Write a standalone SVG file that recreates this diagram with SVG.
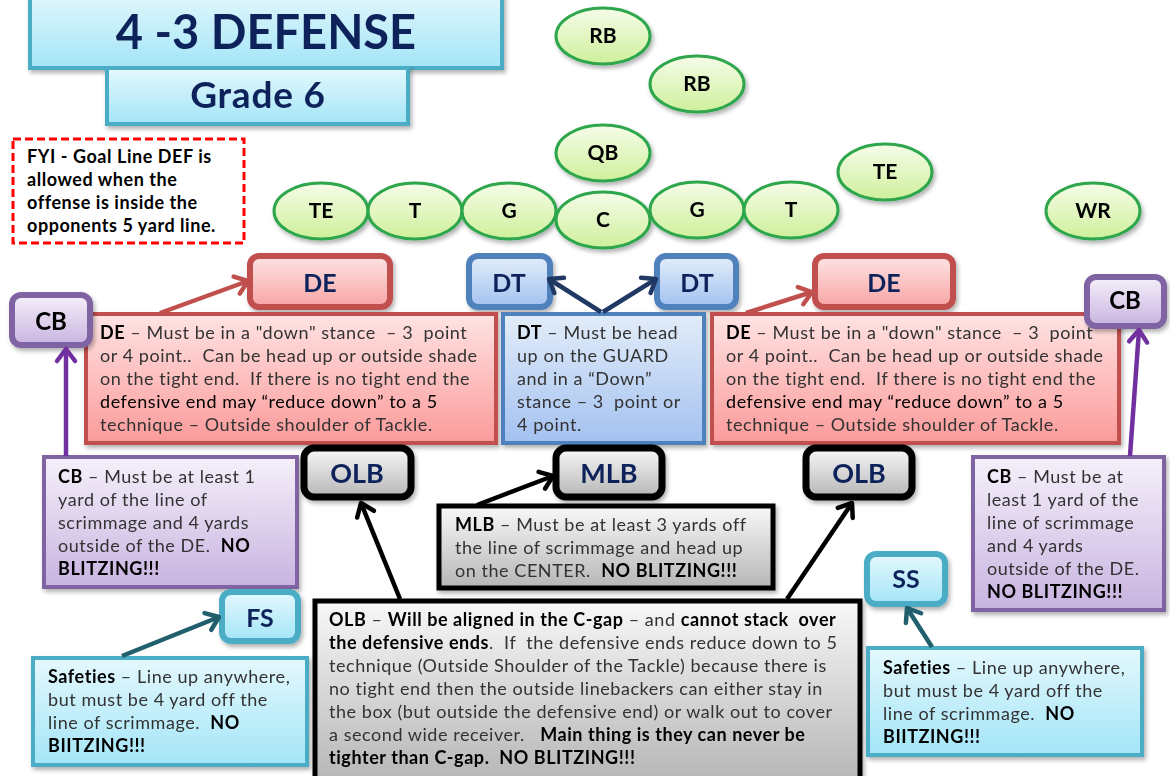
<svg xmlns="http://www.w3.org/2000/svg" width="1170" height="776" viewBox="0 0 1170 776">
<defs>
<style>
.t{font-family:Lato,"Liberation Sans",sans-serif;font-size:18px;letter-spacing:0.55px;fill:#333;white-space:pre}
.k{font-weight:bold;fill:#000}
.dk{fill:#000}
.lbl{font-family:Lato,"Liberation Sans",sans-serif;font-weight:bold;text-anchor:middle;fill:#10245a}
.off{font-family:Lato,"Liberation Sans",sans-serif;font-weight:bold;font-size:21px;text-anchor:middle;fill:#000}
.ell{fill:url(#gGreen);stroke:#2ea64c;stroke-width:3}
.redL{fill:url(#gRed);stroke:#c0504d;stroke-width:6}
.redB{fill:url(#gRed2);stroke:#c0504d;stroke-width:4}
.bluL{fill:url(#gBlue);stroke:#4f81bd;stroke-width:6}
.bluB{fill:url(#gBlue);stroke:#4f81bd;stroke-width:4}
.purL{fill:url(#gPurple);stroke:#8064a2;stroke-width:6}
.purB{fill:url(#gPurple);stroke:#8064a2;stroke-width:4}
.cyL{fill:url(#gCyan);stroke:#4bacc6;stroke-width:6}
.cyB{fill:url(#gCyan);stroke:#4bacc6;stroke-width:4}
.gyL{fill:url(#gGray);stroke:#000;stroke-width:7}
.gyB{fill:url(#gGray);stroke:#000;stroke-width:5}
.c{fill:none;stroke-width:4.5}
</style>
<linearGradient id="gCyan" x1="0" y1="0" x2="0" y2="1"><stop offset="0" stop-color="#e4f8fd"/><stop offset="1" stop-color="#a3e5f7"/></linearGradient>
<linearGradient id="gRed" x1="0" y1="0" x2="0" y2="1"><stop offset="0" stop-color="#fde4e4"/><stop offset="1" stop-color="#f8a4a4"/></linearGradient>
<linearGradient id="gRed2" x1="0" y1="0" x2="0" y2="1"><stop offset="0" stop-color="#ffe3e3"/><stop offset="1" stop-color="#fb9a9a"/></linearGradient>
<linearGradient id="gBlue" x1="0" y1="0" x2="0" y2="1"><stop offset="0" stop-color="#e3edf9"/><stop offset="1" stop-color="#a3c1f0"/></linearGradient>
<linearGradient id="gPurple" x1="0" y1="0" x2="0" y2="1"><stop offset="0" stop-color="#f5f0fa"/><stop offset="1" stop-color="#c8b3e0"/></linearGradient>
<linearGradient id="gGray" x1="0" y1="0" x2="0" y2="1"><stop offset="0" stop-color="#f8f8f8"/><stop offset="1" stop-color="#b6b6b6"/></linearGradient>
<linearGradient id="gGreen" x1="0" y1="0" x2="0" y2="1"><stop offset="0" stop-color="#f6fce8"/><stop offset="1" stop-color="#cef09b"/></linearGradient>
<filter id="sh" x="-10%" y="-10%" width="130%" height="140%"><feDropShadow dx="2" dy="3" stdDeviation="2" flood-color="#000" flood-opacity="0.3"/></filter>
<marker id="aRed" markerUnits="userSpaceOnUse" viewBox="-16 -12 20 24" refX="0" refY="0" markerWidth="20" markerHeight="24" orient="auto" overflow="visible"><path d="M-12,-9 L0,0 L-12,9" fill="none" stroke="#c0504d" stroke-width="4.5" stroke-linecap="round" stroke-linejoin="round"/></marker>
<marker id="aNavy" markerUnits="userSpaceOnUse" viewBox="-16 -12 20 24" refX="0" refY="0" markerWidth="20" markerHeight="24" orient="auto" overflow="visible"><path d="M-12,-9 L0,0 L-12,9" fill="none" stroke="#1f3864" stroke-width="4.5" stroke-linecap="round" stroke-linejoin="round"/></marker>
<marker id="aPur" markerUnits="userSpaceOnUse" viewBox="-16 -12 20 24" refX="0" refY="0" markerWidth="20" markerHeight="24" orient="auto" overflow="visible"><path d="M-12,-9 L0,0 L-12,9" fill="none" stroke="#7030a0" stroke-width="4.5" stroke-linecap="round" stroke-linejoin="round"/></marker>
<marker id="aBlk" markerUnits="userSpaceOnUse" viewBox="-16 -12 20 24" refX="0" refY="0" markerWidth="20" markerHeight="24" orient="auto" overflow="visible"><path d="M-12,-9 L0,0 L-12,9" fill="none" stroke="#000" stroke-width="4.5" stroke-linecap="round" stroke-linejoin="round"/></marker>
<marker id="aTeal" markerUnits="userSpaceOnUse" viewBox="-16 -12 20 24" refX="0" refY="0" markerWidth="20" markerHeight="24" orient="auto" overflow="visible"><path d="M-12,-9 L0,0 L-12,9" fill="none" stroke="#215f6d" stroke-width="4.5" stroke-linecap="round" stroke-linejoin="round"/></marker>
</defs>
<rect width="1170" height="776" fill="#fff"/>

<g id="title" filter="url(#sh)">
<rect x="30" y="-10" width="472" height="78" fill="url(#gCyan)" stroke="#4bacc6" stroke-width="4"/>
<text x="266" y="49" class="lbl" font-size="47">4 -3 DEFENSE</text>
</g>
<g id="grade" filter="url(#sh)">
<rect x="107" y="68" width="301" height="56" fill="url(#gCyan)" stroke="#4bacc6" stroke-width="4"/>
<text x="258" y="108" class="lbl" font-size="37" letter-spacing="0.8">Grade 6</text>
</g>
<g id="fyi">
<rect x="13" y="139" width="231" height="104" fill="#fff" stroke="#ff0000" stroke-width="3" stroke-dasharray="8,4"/>
<text class="t k" font-size="17.5" letter-spacing="0.5"><tspan x="27" y="163">FYI - Goal Line DEF is</tspan><tspan x="27" y="186">allowed when the</tspan><tspan x="27" y="209">offense is inside the</tspan><tspan x="27" y="232">opponents 5 yard line.</tspan></text>
</g>

<g id="offense" filter="url(#sh)">
<g id="off-rb1"><ellipse cx="603" cy="36" rx="47" ry="28" class="ell"/><text x="603" y="43" class="off">RB</text></g>
<g id="off-rb2"><ellipse cx="697" cy="84" rx="47" ry="28" class="ell"/><text x="697" y="91" class="off">RB</text></g>
<g id="off-qb"><ellipse cx="603" cy="153" rx="47" ry="28" class="ell"/><text x="603" y="160" class="off">QB</text></g>
<g id="off-te-l"><ellipse cx="321" cy="211" rx="47" ry="28" class="ell"/><text x="321" y="218" class="off">TE</text></g>
<g id="off-t-l"><ellipse cx="415" cy="211" rx="47" ry="28" class="ell"/><text x="415" y="218" class="off">T</text></g>
<g id="off-g-l"><ellipse cx="509" cy="211" rx="47" ry="28" class="ell"/><text x="509" y="218" class="off">G</text></g>
<g id="off-g-r"><ellipse cx="697" cy="210" rx="47" ry="28" class="ell"/><text x="697" y="217" class="off">G</text></g>
<g id="off-t-r"><ellipse cx="791" cy="210" rx="47" ry="28" class="ell"/><text x="791" y="217" class="off">T</text></g>
<g id="off-c"><ellipse cx="603" cy="220" rx="47" ry="28" class="ell"/><text x="603" y="227" class="off">C</text></g>
<g id="off-te-r"><ellipse cx="885" cy="172" rx="47" ry="28" class="ell"/><text x="885" y="179" class="off">TE</text></g>
<g id="off-wr"><ellipse cx="1093" cy="211" rx="47" ry="28" class="ell"/><text x="1093" y="218" class="off">WR</text></g>
</g>

<g id="de-l" filter="url(#sh)"><rect x="250" y="256" width="140" height="51" rx="9" class="redL"/><text x="320" y="292" class="lbl" font-size="25">DE</text></g>
<g id="dt-l" filter="url(#sh)"><rect x="469" y="256" width="81" height="51" rx="9" class="bluL"/><text x="509" y="292" class="lbl" font-size="25">DT</text></g>
<g id="dt-r" filter="url(#sh)"><rect x="657" y="256" width="79" height="51" rx="9" class="bluL"/><text x="697" y="292" class="lbl" font-size="25">DT</text></g>
<g id="de-r" filter="url(#sh)"><rect x="815" y="256" width="138" height="51" rx="9" class="redL"/><text x="884" y="292" class="lbl" font-size="25">DE</text></g>

<g id="de-l-text" filter="url(#sh)">
<rect x="86" y="314" width="410" height="129" class="redB"/>
<text class="t"><tspan x="100" y="339"><tspan class="k">DE</tspan> – Must be in a "down" stance  – 3  point</tspan><tspan x="100" y="362">or 4 point..  Can be head up or outside shade</tspan><tspan x="100" y="385">on the tight end.  If there is no tight end the</tspan><tspan x="100" y="408" class="dk">defensive end may “reduce down” to a 5</tspan><tspan x="100" y="431">technique – Outside shoulder of Tackle.</tspan></text>
</g>
<g id="cb-l" filter="url(#sh)"><rect x="12" y="295" width="78" height="50" rx="9" class="purL"/><text x="51" y="330" class="lbl" font-size="24" style="fill:#000">CB</text></g>

<g id="dt-text" filter="url(#sh)">
<rect x="503" y="314" width="201" height="129" class="bluB"/>
<text class="t"><tspan x="517" y="339"><tspan class="k">DT</tspan> – Must be head</tspan><tspan x="517" y="362">up on the GUARD</tspan><tspan x="517" y="385">and in a “Down”</tspan><tspan x="517" y="408">stance – 3  point or</tspan><tspan x="517" y="431">4 point.</tspan></text>
</g>
<g id="de-r-text" filter="url(#sh)">
<rect x="712" y="314" width="407" height="129" class="redB"/>
<text class="t"><tspan x="726" y="339"><tspan class="k">DE</tspan> – Must be in a "down" stance  – 3  point</tspan><tspan x="726" y="362">or 4 point..  Can be head up or outside shade</tspan><tspan x="726" y="385">on the tight end.  If there is no tight end the</tspan><tspan x="726" y="408" class="dk">defensive end may “reduce down” to a 5</tspan><tspan x="726" y="431">technique – Outside shoulder of Tackle.</tspan></text>
</g>
<g id="cb-r" filter="url(#sh)"><rect x="1087" y="277" width="77" height="49" rx="9" class="purL"/><text x="1125" y="309" class="lbl" font-size="24" style="fill:#000">CB</text></g>

<g id="olb-l" filter="url(#sh)"><rect x="304" y="448" width="107" height="49" rx="10" class="gyL"/><text x="357" y="483" class="lbl" font-size="27">OLB</text></g>
<g id="mlb" filter="url(#sh)"><rect x="556" y="448" width="106" height="49" rx="10" class="gyL"/><text x="609" y="483" class="lbl" font-size="27">MLB</text></g>
<g id="olb-r" filter="url(#sh)"><rect x="806" y="448" width="106" height="49" rx="10" class="gyL"/><text x="859" y="483" class="lbl" font-size="27">OLB</text></g>

<g id="cb-l-text" filter="url(#sh)">
<rect x="44" y="457" width="253" height="130" class="purB"/>
<text class="t"><tspan x="58" y="483"><tspan class="k">CB</tspan> – Must be at least 1</tspan><tspan x="58" y="506">yard of the line of</tspan><tspan x="58" y="529">scrimmage and 4 yards</tspan><tspan x="58" y="552">outside of the DE.  <tspan class="k">NO</tspan></tspan><tspan x="58" y="575" class="k">BLITZING!!!</tspan></text>
</g>
<g id="cb-r-text" filter="url(#sh)">
<rect x="973" y="457" width="191" height="153" class="purB"/>
<text class="t"><tspan x="987" y="483"><tspan class="k">CB</tspan> – Must be at</tspan><tspan x="987" y="506">least 1 yard of the</tspan><tspan x="987" y="529">line of scrimmage</tspan><tspan x="987" y="552">and 4 yards</tspan><tspan x="987" y="575">outside of the DE.</tspan><tspan x="987" y="598" class="k">NO BLITZING!!!</tspan></text>
</g>

<g id="mlb-text" filter="url(#sh)">
<rect x="439" y="506" width="334" height="82" class="gyB"/>
<text class="t"><tspan x="455" y="531"><tspan class="k">MLB</tspan> – Must be at least 3 yards off</tspan><tspan x="455" y="554">the line of scrimmage and head up</tspan><tspan x="455" y="577">on the CENTER.  <tspan class="k">NO BLITZING!!!</tspan></tspan></text>
</g>

<g id="fs" filter="url(#sh)"><rect x="222" y="592" width="76" height="49" rx="9" class="cyL"/><text x="260" y="627" class="lbl" font-size="25">FS</text></g>
<g id="ss" filter="url(#sh)"><rect x="867" y="554" width="78" height="50" rx="9" class="cyL"/><text x="906" y="588" class="lbl" font-size="25">SS</text></g>

<g id="olb-text" filter="url(#sh)">
<rect x="315" y="601" width="545" height="180" class="gyB"/>
<text class="t"><tspan x="329" y="626"><tspan class="k">OLB</tspan> – <tspan class="k">Will be aligned in the C-gap</tspan> – and <tspan class="k">cannot stack  over</tspan></tspan><tspan x="329" y="649"><tspan class="k">the defensive ends</tspan>.  If  the defensive ends reduce down to 5</tspan><tspan x="329" y="672">technique (Outside Shoulder of the Tackle) because there is</tspan><tspan x="329" y="695">no tight end then the outside linebackers can either stay in</tspan><tspan x="329" y="718">the box (but outside the defensive end) or walk out to cover</tspan><tspan x="329" y="741">a second wide receiver.   <tspan class="k">Main thing is they can never be</tspan></tspan><tspan x="329" y="764" class="k">tighter than C-gap.  NO BLITZING!!!</tspan></text>
</g>

<g id="safeties-l" filter="url(#sh)">
<rect x="33" y="658" width="274" height="107" class="cyB"/>
<text class="t"><tspan x="48" y="683"><tspan class="k">Safeties</tspan> – Line up anywhere,</tspan><tspan x="48" y="706">but must be 4 yard off the</tspan><tspan x="48" y="729">line of scrimmage.  <tspan class="k">NO</tspan></tspan><tspan x="48" y="752" class="k">BIITZING!!!</tspan></text>
</g>
<g id="safeties-r" filter="url(#sh)">
<rect x="868" y="648" width="274" height="107" class="cyB"/>
<text class="t"><tspan x="883" y="674"><tspan class="k">Safeties</tspan> – Line up anywhere,</tspan><tspan x="883" y="697">but must be 4 yard off the</tspan><tspan x="883" y="720">line of scrimmage.  <tspan class="k">NO</tspan></tspan><tspan x="883" y="743" class="k">BIITZING!!!</tspan></text>
</g>

<g id="connectors">
<line x1="160" y1="313" x2="248" y2="281" class="c" stroke="#c0504d" marker-end="url(#aRed)"/>
<line x1="746" y1="313" x2="812" y2="292" class="c" stroke="#c0504d" marker-end="url(#aRed)"/>
<line x1="601" y1="312" x2="549" y2="279" class="c" stroke="#1f3864" marker-end="url(#aNavy)"/>
<line x1="603" y1="312" x2="656" y2="279" class="c" stroke="#1f3864" marker-end="url(#aNavy)"/>
<line x1="66" y1="456" x2="66" y2="349" class="c" stroke="#7030a0" marker-end="url(#aPur)"/>
<line x1="1130" y1="456" x2="1139" y2="330" class="c" stroke="#7030a0" marker-end="url(#aPur)"/>
<line x1="400" y1="599" x2="361" y2="503" class="c" stroke="#000" marker-end="url(#aBlk)"/>
<line x1="477" y1="505" x2="553" y2="476" class="c" stroke="#000" marker-end="url(#aBlk)"/>
<line x1="787" y1="599" x2="852" y2="503" class="c" stroke="#000" marker-end="url(#aBlk)"/>
<line x1="122" y1="656" x2="219" y2="617" class="c" stroke="#215f6d" marker-end="url(#aTeal)"/>
<line x1="932" y1="647" x2="907" y2="608" class="c" stroke="#215f6d" marker-end="url(#aTeal)"/>
</g>
</svg>
